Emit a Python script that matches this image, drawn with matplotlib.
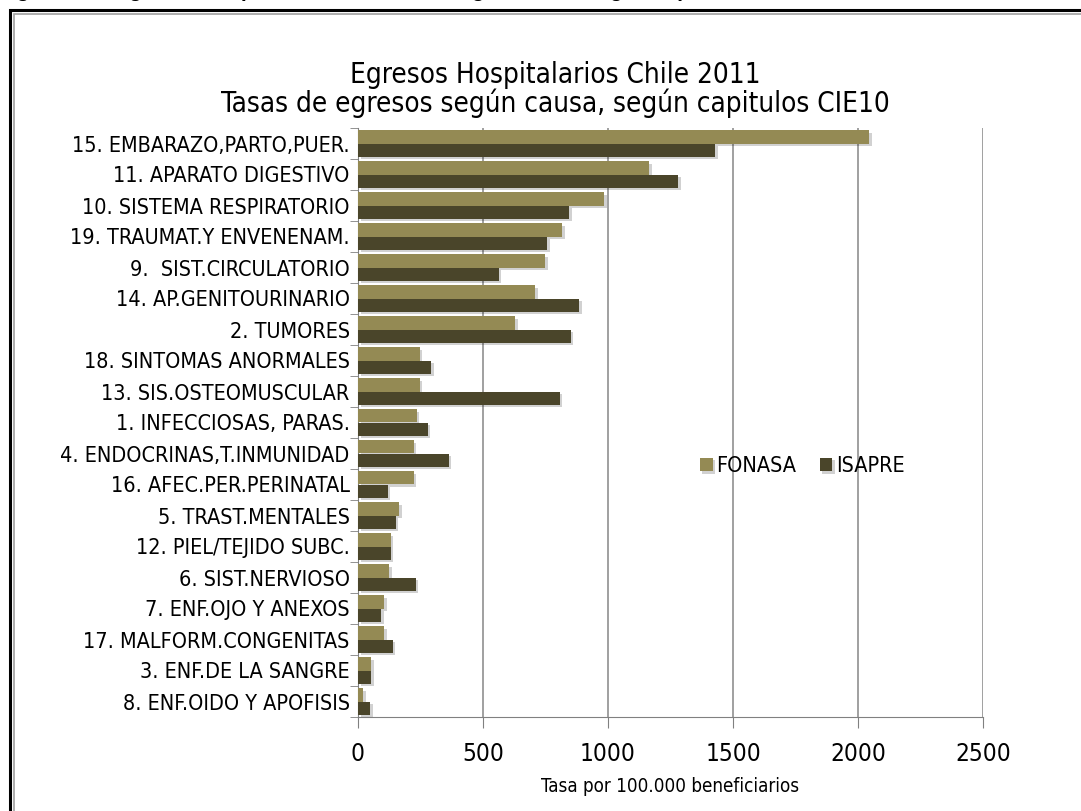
import matplotlib
matplotlib.use("Agg")
import matplotlib.pyplot as plt
import matplotlib.patheffects as pe
from matplotlib.patches import Rectangle
import numpy as np

categories = [
    "15. EMBARAZO,PARTO,PUER.",
    "11. APARATO DIGESTIVO",
    "10. SISTEMA RESPIRATORIO",
    "19. TRAUMAT.Y ENVENENAM.",
    "9.  SIST.CIRCULATORIO",
    "14. AP.GENITOURINARIO",
    "2. TUMORES",
    "18. SINTOMAS ANORMALES",
    "13. SIS.OSTEOMUSCULAR",
    "1. INFECCIOSAS, PARAS.",
    "4. ENDOCRINAS,T.INMUNIDAD",
    "16. AFEC.PER.PERINATAL",
    "5. TRAST.MENTALES",
    "12. PIEL/TEJIDO SUBC.",
    "6. SIST.NERVIOSO",
    "7. ENF.OJO Y ANEXOS",
    "17. MALFORM.CONGENITAS",
    "3. ENF.DE LA SANGRE",
    "8. ENF.OIDO Y APOFISIS",
]
fonasa = [2045, 1164, 984, 816, 748, 708, 628, 246, 246, 234, 222, 222, 164, 130, 124, 104, 104, 52, 20]
isapre = [1428, 1280, 844, 756, 562, 884, 850, 292, 806, 278, 362, 118, 150, 130, 230, 92, 138, 52, 48]
xticks = [0, 500, 1000, 1500, 2000, 2500]

plt.rcParams["font.family"] = ["DejaVu Sans"]
plt.rcParams["font.stretch"] = "condensed"

W, H = 1081, 811
fig = plt.figure(figsize=(W / 100, H / 100), dpi=100)

# border
fig.patches.append(Rectangle((10 / W, -0.01), 1.1, 1 - 10 / H + 0.01, transform=fig.transFigure,
                             fill=False, edgecolor="black", linewidth=2.2))
fig.patches.append(Rectangle((14 / W, -0.01), 1.1, 1 - 14 / H + 0.01, transform=fig.transFigure,
                             fill=False, edgecolor="#a0a0a0", linewidth=1.2))

# caption above the frame, clipped by the top edge as in the source
fig.text(-2 / W, 1 + 3 / H, "Figura N°5: Egresos hospitalarios Chile 2011 según causa, según capítulos CIE10",
         fontsize=15, fontweight="bold", family=["Liberation Sans", "DejaVu Sans"], va="baseline", ha="left")

ax = fig.add_axes([358 / W, 1 - 717 / H, (983 - 358) / W, (717 - 128) / H])

n = len(categories)
y = np.arange(n)
h = 0.42
shadow = [pe.SimplePatchShadow(offset=(2, -2), shadow_rgbFace="#000000", alpha=0.18), pe.Normal()]
b1 = ax.barh(y - h / 2, fonasa, height=h, color="#948A54", label="FONASA", zorder=3)
b2 = ax.barh(y + h / 2, isapre, height=h, color="#4A452A", label="ISAPRE", zorder=3)
for b in list(b1) + list(b2):
    b.set_path_effects(shadow)

ax.set_ylim(n - 0.5, -0.5)
ax.set_xlim(0, 2500)
ax.set_xticks(xticks)
ax.set_xticklabels([str(v) for v in xticks], fontsize=17.5)
ax.set_yticks(y)
ax.set_yticklabels(categories, fontsize=15.5)
ax.set_yticks(np.arange(-0.5, n, 1), minor=True)
ax.tick_params(axis="y", which="major", length=0, pad=6)
ax.tick_params(axis="y", which="minor", length=6, color="#808080")
ax.tick_params(axis="x", length=8, color="#808080", pad=10)
ax.grid(axis="x", color="#909090", linewidth=1.2, zorder=0)
for s in ["top", "right"]:
    ax.spines[s].set_visible(False)
ax.spines["left"].set_color("#808080")
ax.spines["bottom"].set_color("#808080")
ax.set_xlabel("Tasa por 100.000 beneficiarios", fontsize=13.5, labelpad=8)

fig.text(555 / W, 1 - 75 / H, "Egresos Hospitalarios Chile 2011", ha="center", va="center", fontsize=20)
fig.text(555 / W, 1 - 103 / H, "Tasas de egresos según causa, según capitulos CIE10", ha="center", va="center", fontsize=20)

leg = ax.legend(loc="center", bbox_to_anchor=(802 / W, 1 - 466 / H), bbox_transform=fig.transFigure,
                ncol=2, frameon=False, fontsize=15.5, handlelength=0.6, handleheight=0.6,
                handletextpad=0.15, columnspacing=1.1)

fig.savefig("out.png", dpi=100)
